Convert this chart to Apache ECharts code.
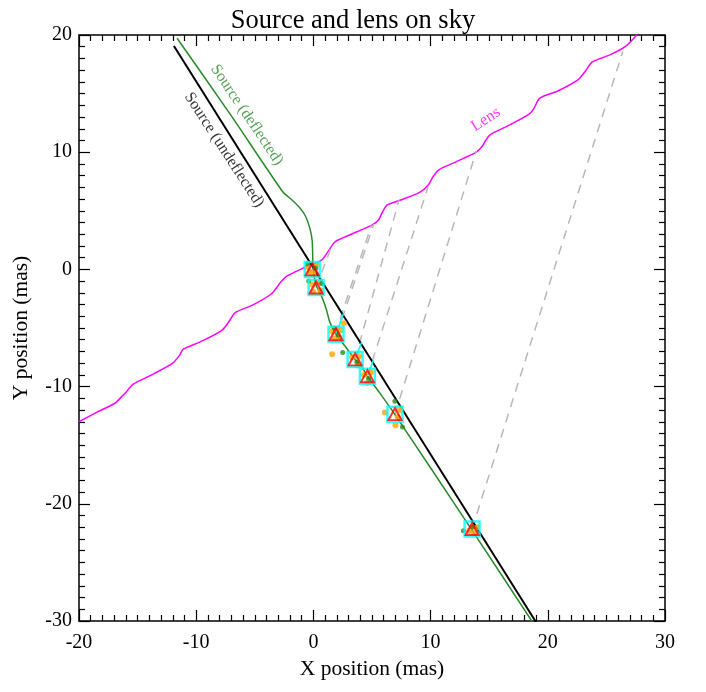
<!DOCTYPE html>
<html><head><meta charset="utf-8">
<script src="https://cdn.jsdelivr.net/npm/echarts@6/dist/echarts.min.js"></script>
<style>html,body{margin:0;padding:0;background:#fff}#c{width:706px;height:692px}</style>
</head><body><div id="c"></div>
<script>
// Lens track (mas)
const lensX = [-20.0,-18.5,-16.9,-16.4,-16.0,-15.4,-13.8,-12.0,-11.4,-11.1,-9.7,-7.8,-7.1,-6.7,-5.1,-3.6,-3.1,-2.8,-2.3,-0.9,0.7,1.3,1.85,2.6,5.0,5.55,5.9,6.3,7.4,9.1,9.8,10.2,10.7,12.2,13.9,14.4,14.7,15.1,16.5,18.35,18.8,19.3,20.8,22.6,23.2,23.8,25.3,26.6,27.5,27.9];
const lensY = [-13.0,-12.2,-11.4,-10.9,-10.5,-9.8,-9.0,-8.0,-7.3,-6.8,-6.2,-5.2,-4.3,-3.7,-3.0,-2.1,-1.5,-1.1,-0.6,0.1,0.8,1.6,2.36,2.73,3.78,4.21,4.9,5.5,5.9,6.6,7.2,7.9,8.5,9.2,10.0,10.5,11.0,11.5,12.2,13.2,13.7,14.6,15.2,16.2,16.9,17.7,18.3,19.0,19.9,20.4];
// Undeflected source track
const srcX = [-11.9, 19.0];
const srcY = [19.06, -30.1];
// Deflected source track
const defX = [-11.63,-7.0,-2.6,-1.8,-1.2,-0.7,-0.3,-0.1,-0.05,0.0,0.2,0.7,1.1,1.4,1.9,2.85,3.5,4.3,4.6,5.7,6.9,13.5,18.7];
const defY = [19.72,13.1,6.6,5.9,5.3,4.6,3.5,2.4,0.8,0.0,-1.3,-2.3,-3.4,-4.5,-5.5,-6.75,-7.6,-8.6,-9.1,-10.6,-12.3,-22.2,-30.1];
// Observed epochs
const obsX = [-0.1, 0.23, 1.93, 3.56, 4.61, 6.96, 13.54];
const obsY = [0.0, -1.54, -5.53, -7.68, -9.11, -12.35, -22.15];
// Dashed connections source -> lens
const connFromX = [-0.1, 0.23, 1.85, 2.0, 3.56, 4.61, 6.96, 13.54];
const connFromY = [0.0, -1.54, -5.5, -5.56, -7.68, -9.11, -12.35, -22.15];
const connToX = [0.8, 1.6, 4.95, 5.15, 7.3, 9.8, 13.9, 26.4];
const connToY = [0.9, 2.1, 3.75, 3.85, 5.9, 7.1, 10.1, 18.6];
// Short cyan segments
const cyanFromX = [1.93, 3.56, 4.61];
const cyanFromY = [-5.53, -7.68, -9.11];
const cyanToX = [2.56, 4.13, 5.12];
const cyanToY = [-3.76, -6.18, -7.74];
// Image points
const orangeX = [-0.5,0.3,0.0,-0.3, 0.6,0.0,-0.1,0.6, 1.6,2.3,1.8,2.2,2.6, 1.6,3.8,3.3,3.9, 4.6,4.9,4.3, 6.1,7.0,7.4,7.2, 14.0,13.3,13.7];
const orangeY = [0.2,0.4,-0.3,-0.2, -1.1,-1.9,-1.3,-1.8, -5.3,-5.2,-5.9,-5.8,-4.6, -7.25,-8.2,-7.5,-7.4, -9.7,-8.8,-9.0, -12.2,-13.3,-12.0,-12.6, -22.0,-22.3,-22.5];
const greenX = [-0.5,0.2, -0.4,0.7, 1.8,2.1, 2.5,3.7, 4.7, 6.95,7.6, 12.8,13.6];
const greenY = [0.5,0.1, -1.0,-1.2, -5.0,-5.6, -7.1,-7.9, -9.3, -11.25,-13.45, -22.3,-22.0];
// Text annotations
const labelText = ['Source (deflected)', 'Source (undeflected)', 'Lens'];
const labelX = [-5.68, -7.62, 14.71];
const labelY = [13.17, 10.19, 12.8];
const labelRot = [-56, -57, 33];
const labelColor = ['#2a8a2a', '#000000', '#ff00ff'];
// Axis ticks
const xMin = -20, xMax = 30, xStep = 10;
const yMin = -30, yMax = 20, yStep = 10;

const zip = (a, b) => a.map((v, i) => [v, b[i]]);
const FONT = 'Liberation Serif';

const series = [];
series.push({type:'line', data: zip(lensX, lensY), showSymbol:false, smooth:0.25, lineStyle:{color:'#ff00ff', width:1.5}, z:2});
for (let i = 0; i < connFromX.length; i++) {
  series.push({type:'line', data: [[connFromX[i], connFromY[i]], [connToX[i], connToY[i]]], showSymbol:false,
    lineStyle:{color:'#b8b8b8', width:1.5, type:[9,7]}, z:2});
}
series.push({type:'line', data: zip(srcX, srcY), showSymbol:false, lineStyle:{color:'#000', width:2}, z:2});
series.push({type:'line', data: zip(defX, defY), showSymbol:false, smooth:0.2, lineStyle:{color:'#2a8a2a', width:1.5}, z:2});
for (let i = 0; i < cyanFromX.length; i++) {
  series.push({type:'line', data: [[cyanFromX[i], cyanFromY[i]], [cyanToX[i], cyanToY[i]]], showSymbol:false,
    lineStyle:{color:'#00ffff', width:1.5}, z:2});
}
series.push({type:'scatter', data: zip(orangeX, orangeY), symbol:'circle', symbolSize:6, itemStyle:{color:'#ffa500'}, z:3});
series.push({type:'scatter', data: zip(greenX, greenY), symbol:'circle', symbolSize:5, itemStyle:{color:'#228b22'}, z:3});
series.push({type:'scatter', data: zip(obsX, obsY), symbol:'rect', symbolSize:15, itemStyle:{color:'rgba(0,0,0,0)', borderColor:'#00ffff', borderWidth:2.5}, z:4});
series.push({type:'scatter', data: zip(obsX, obsY), symbol:'triangle', symbolSize:[13,12], itemStyle:{color:'rgba(0,0,0,0)', borderColor:'#ff0000', borderWidth:2}, z:5});
series.push({type:'scatter', symbolSize:1, itemStyle:{color:'rgba(0,0,0,0)'}, z:6,
  data: labelText.map((t, i) => ({value:[labelX[i], labelY[i]],
    label:{show:true, position:'inside', formatter:t, rotate:labelRot[i], color:labelColor[i], fontSize:16, fontFamily:FONT}}))});

const axisCommon = {
  type:'value', splitLine:{show:false},
  axisLine:{onZero:false, lineStyle:{color:'#000', width:1.5}},
  axisTick:{inside:true, length:11, lineStyle:{color:'#000', width:1.2}},
  minorTick:{show:true, splitNumber:10, length:6, lineStyle:{color:'#000', width:1.2}},
};
const option = {
  animation:false,
  backgroundColor:'#fff',
  title:{text:'Source and lens on sky', left:'center', top:3,
    textStyle:{fontFamily:FONT, fontSize:26.5, fontWeight:'normal', color:'#000'}},
  grid:{left:79, right:41, top:35, bottom:71, containLabel:false},
  xAxis:[
    Object.assign({}, axisCommon, {position:'bottom', min:xMin, max:xMax, interval:xStep,
      axisLabel:{fontFamily:FONT, fontSize:20, color:'#000', margin:12},
      name:'X position (mas)', nameLocation:'middle', nameGap:34,
      nameTextStyle:{fontFamily:FONT, fontSize:21.5, color:'#000'}}),
    Object.assign({}, axisCommon, {position:'top', min:xMin, max:xMax, interval:xStep, axisLabel:{show:false}})
  ],
  yAxis:[
    Object.assign({}, axisCommon, {position:'left', min:yMin, max:yMax, interval:yStep,
      axisLabel:{fontFamily:FONT, fontSize:20, color:'#000', margin:7},
      name:'Y position (mas)', nameLocation:'middle', nameGap:47, nameRotate:90,
      nameTextStyle:{fontFamily:FONT, fontSize:21.5, color:'#000'}}),
    Object.assign({}, axisCommon, {position:'right', min:yMin, max:yMax, interval:yStep, axisLabel:{show:false}})
  ],
  series: series
};
const chart = echarts.init(document.getElementById('c'), null, {renderer:'canvas'});
chart.setOption(option);
</script>
</body></html>
